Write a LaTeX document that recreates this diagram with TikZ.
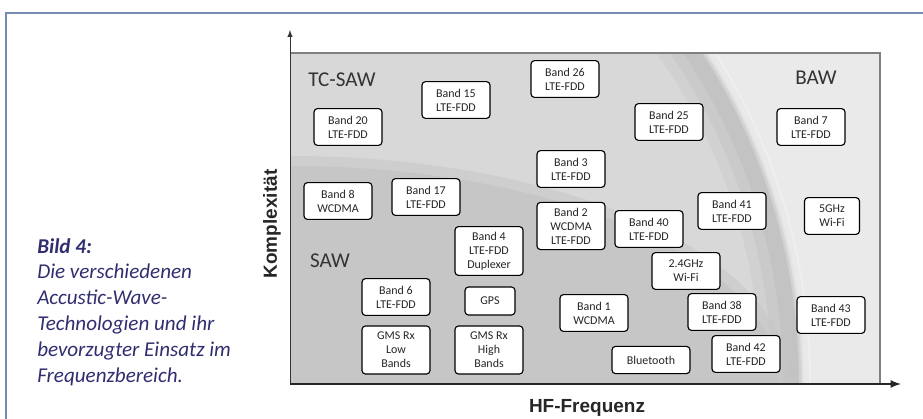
\documentclass[tikz,border=0pt]{standalone}
\usepackage{fontspec}
\setmainfont{Carlito}
\newfontfamily\axisfont{Liberation Sans}
\usepackage{tikz}
\usetikzlibrary{arrows,positioning}
\definecolor{frameblue}{RGB}{118,138,178}
\definecolor{captionblue}{RGB}{48,46,112}
\definecolor{bawgray}{RGB}{234,234,234}
\definecolor{tcsawgray}{RGB}{216,216,216}
\definecolor{sawgray}{RGB}{198,198,198}
\tikzset{band/.style={rectangle, rounded corners=2.5pt, minimum width=1.7cm, minimum height=0.92cm, inner sep=1pt, draw=black, line width=0.8pt, fill=white, font=\fontsize{8.5}{10}\selectfont, text=black!85, align=center, execute at begin node=\setlength{\baselineskip}{10pt}}}
\tikzset{tech/.style={font=\fontsize{15}{18}\selectfont, text=black!80}}
\tikzset{axislabel/.style={font=\axisfont\bfseries\fontsize{13.5}{16}\selectfont, text=black!85}}

\begin{document}
\begin{tikzpicture}[x=0.025cm, y=-0.025cm]
		\useasboundingbox (0,0) rectangle (923,419);
		\draw[frameblue, line width=1.4pt] (6,419) -- (6,13) -- (923,13);
		\node[anchor=north west, inner sep=0pt, align=left, text=captionblue, font=\fontsize{15}{18.4}\selectfont\itshape, execute at begin node=\setlength{\baselineskip}{18.4pt}] (caption) at (37,238) {\textbf{Bild 4:}\\Die verschiedenen\\Accustic-Wave-\\Technologien und ihr\\bevorzugter Einsatz im\\Frequenzbereich.};
		% BAW, TC-SAW and SAW areas
		\fill[bawgray] (290,53) rectangle (880,384);
		\begin{scope}
			\clip (290,53) rectangle (880,384);
			\fill[tcsawgray] (290,384) ellipse[x radius=512, y radius=567];
			\draw[black, opacity=.03, line width=1.2cm] (290,384) ellipse[x radius=495, y radius=550];
			\draw[black, opacity=.03, line width=0.8cm] (290,384) ellipse[x radius=498, y radius=553];
			\draw[black, opacity=.03, line width=0.45cm] (290,384) ellipse[x radius=502, y radius=557];
			\draw[white, opacity=.25, line width=0.3cm] (290,384) ellipse[x radius=515, y radius=570];
			\draw[sawgray, opacity=.5, line width=0.5cm] (290,384) ellipse[x radius=490, y radius=218];
			\fill[sawgray] (290,384) ellipse[x radius=490, y radius=218];
		\end{scope}
		\draw[gray, line width=0.9pt] (290,53) -- (880,53) -- (880,384);
		\node[tech] (tcsaw) at (342,80) {TC-SAW};
		\node[tech] (saw) at (330,261) {SAW};
		\node[tech] (baw) at (816,78) {BAW};
		% axes
		\coordinate (O) at (290,384);
		\coordinate (ytip) at (290,30);
		\coordinate (xtip) at (901,384);
		\draw[-latex, line width=0.7pt, black!80] (O) -- (ytip);
		\draw[-latex, line width=1.5pt, black!85] (O) -- (xtip);
		\node[axislabel, rotate=90] (ylabel) at (272,224) {Komplexität};
		\node[axislabel] (xlabel) at (587,408) {HF-Frequenz};
		% bands
		\node[band] (b20) at (348,127) {Band 20\\LTE-FDD};
		\node[band] (b15) at (456,100) {Band 15\\LTE-FDD};
		\node[band] (b26) at (565,79) {Band 26\\LTE-FDD};
		\node[band] (b25) at (669,122) {Band 25\\LTE-FDD};
		\node[band] (b7) at (811,127) {Band 7\\LTE-FDD};
		\node[band] (b3) at (571,169) {Band 3\\LTE-FDD};
		\node[band] (b8) at (338,201) {Band 8\\WCDMA};
		\node[band] (b17) at (426,197) {Band 17\\LTE-FDD};
		\node[band, minimum height=1.18cm] (b2) at (571,226) {Band 2\\WCDMA\\LTE-FDD};
		\node[band] (b40) at (649,229) {Band 40\\LTE-FDD};
		\node[band] (b41) at (732,211) {Band 41\\LTE-FDD};
		\node[band, minimum width=1.375cm] (wifi5) at (832,216) {5GHz\\Wi-Fi};
		\node[band, minimum height=1.22cm] (b4) at (489,251) {Band 4\\LTE-FDD\\Duplexer};
		\node[band] (wifi24) at (686,271) {2.4GHz\\Wi-Fi};
		\node[band] (b6) at (396,297) {Band 6\\LTE-FDD};
		\node[band, minimum width=1.25cm, minimum height=0.7cm] (gps) at (490,301) {GPS};
		\node[band] (b1) at (594,313) {Band 1\\WCDMA};
		\node[band] (b38) at (722,312) {Band 38\\LTE-FDD};
		\node[band] (b43) at (831,315) {Band 43\\LTE-FDD};
		\node[band, minimum height=1.2cm] (gsmlow) at (396,350) {GMS Rx\\Low\\Bands};
		\node[band, minimum height=1.2cm] (gsmhigh) at (489,350) {GMS Rx\\High\\Bands};
		\node[band, minimum width=1.95cm, minimum height=0.68cm] (bt) at (651,360) {Bluetooth};
		\node[band] (b42) at (746,354) {Band 42\\LTE-FDD};
\end{tikzpicture}
\end{document}
